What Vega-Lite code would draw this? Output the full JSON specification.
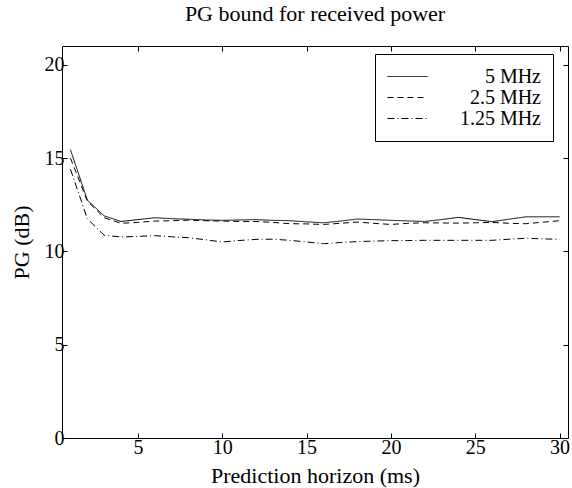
{
  "$schema": "https://vega.github.io/schema/vega-lite/v6.json",
  "width": 506,
  "height": 392,
  "autosize": {"type": "none"},
  "padding": {"left": 62, "top": 46, "right": 4, "bottom": 50},
  "background": "white",
  "config": {
    "font": "Liberation Serif, Times New Roman, serif",
    "view": {"stroke": "black", "strokeWidth": 1},
    "axis": {"grid": false, "domain": false, "tickColor": "black", "tickSize": -5, "labelColor": "black", "labelFontSize": 20, "titleFontSize": 22, "titleFontWeight": "normal", "titleColor": "black", "labelFont": "Liberation Serif, Times New Roman, serif", "titleFont": "Liberation Serif, Times New Roman, serif"}
  },
  "title": {"text": "PG bound for received power", "fontSize": 22, "fontWeight": "normal", "font": "Liberation Serif, Times New Roman, serif", "color": "black", "offset": 20},
  "data": {"values": [
    {"h":1,"pg":15.45,"s":"5 MHz"},{"h":2,"pg":12.75,"s":"5 MHz"},{"h":3,"pg":11.9,"s":"5 MHz"},{"h":4,"pg":11.6,"s":"5 MHz"},{"h":5,"pg":11.7,"s":"5 MHz"},{"h":6,"pg":11.8,"s":"5 MHz"},{"h":7,"pg":11.75,"s":"5 MHz"},{"h":8,"pg":11.72,"s":"5 MHz"},{"h":9,"pg":11.68,"s":"5 MHz"},{"h":10,"pg":11.66,"s":"5 MHz"},{"h":11,"pg":11.68,"s":"5 MHz"},{"h":12,"pg":11.7,"s":"5 MHz"},{"h":13,"pg":11.66,"s":"5 MHz"},{"h":14,"pg":11.64,"s":"5 MHz"},{"h":15,"pg":11.58,"s":"5 MHz"},{"h":16,"pg":11.53,"s":"5 MHz"},{"h":17,"pg":11.62,"s":"5 MHz"},{"h":18,"pg":11.73,"s":"5 MHz"},{"h":19,"pg":11.7,"s":"5 MHz"},{"h":20,"pg":11.66,"s":"5 MHz"},{"h":21,"pg":11.63,"s":"5 MHz"},{"h":22,"pg":11.6,"s":"5 MHz"},{"h":23,"pg":11.7,"s":"5 MHz"},{"h":24,"pg":11.82,"s":"5 MHz"},{"h":25,"pg":11.7,"s":"5 MHz"},{"h":26,"pg":11.59,"s":"5 MHz"},{"h":27,"pg":11.72,"s":"5 MHz"},{"h":28,"pg":11.85,"s":"5 MHz"},{"h":29,"pg":11.85,"s":"5 MHz"},{"h":30,"pg":11.85,"s":"5 MHz"},
    {"h":1,"pg":15.0,"s":"2.5 MHz"},{"h":2,"pg":12.7,"s":"2.5 MHz"},{"h":3,"pg":11.8,"s":"2.5 MHz"},{"h":4,"pg":11.5,"s":"2.5 MHz"},{"h":5,"pg":11.55,"s":"2.5 MHz"},{"h":6,"pg":11.62,"s":"2.5 MHz"},{"h":7,"pg":11.64,"s":"2.5 MHz"},{"h":8,"pg":11.67,"s":"2.5 MHz"},{"h":9,"pg":11.64,"s":"2.5 MHz"},{"h":10,"pg":11.62,"s":"2.5 MHz"},{"h":11,"pg":11.6,"s":"2.5 MHz"},{"h":12,"pg":11.6,"s":"2.5 MHz"},{"h":13,"pg":11.55,"s":"2.5 MHz"},{"h":14,"pg":11.48,"s":"2.5 MHz"},{"h":15,"pg":11.47,"s":"2.5 MHz"},{"h":16,"pg":11.44,"s":"2.5 MHz"},{"h":17,"pg":11.5,"s":"2.5 MHz"},{"h":18,"pg":11.57,"s":"2.5 MHz"},{"h":19,"pg":11.5,"s":"2.5 MHz"},{"h":20,"pg":11.44,"s":"2.5 MHz"},{"h":21,"pg":11.5,"s":"2.5 MHz"},{"h":22,"pg":11.53,"s":"2.5 MHz"},{"h":23,"pg":11.52,"s":"2.5 MHz"},{"h":24,"pg":11.51,"s":"2.5 MHz"},{"h":25,"pg":11.53,"s":"2.5 MHz"},{"h":26,"pg":11.55,"s":"2.5 MHz"},{"h":27,"pg":11.5,"s":"2.5 MHz"},{"h":28,"pg":11.48,"s":"2.5 MHz"},{"h":29,"pg":11.56,"s":"2.5 MHz"},{"h":30,"pg":11.64,"s":"2.5 MHz"},
    {"h":1,"pg":14.4,"s":"1.25 MHz"},{"h":2,"pg":11.75,"s":"1.25 MHz"},{"h":3,"pg":10.86,"s":"1.25 MHz"},{"h":4,"pg":10.77,"s":"1.25 MHz"},{"h":5,"pg":10.8,"s":"1.25 MHz"},{"h":6,"pg":10.84,"s":"1.25 MHz"},{"h":7,"pg":10.78,"s":"1.25 MHz"},{"h":8,"pg":10.73,"s":"1.25 MHz"},{"h":9,"pg":10.62,"s":"1.25 MHz"},{"h":10,"pg":10.5,"s":"1.25 MHz"},{"h":11,"pg":10.58,"s":"1.25 MHz"},{"h":12,"pg":10.64,"s":"1.25 MHz"},{"h":13,"pg":10.65,"s":"1.25 MHz"},{"h":14,"pg":10.59,"s":"1.25 MHz"},{"h":15,"pg":10.5,"s":"1.25 MHz"},{"h":16,"pg":10.41,"s":"1.25 MHz"},{"h":17,"pg":10.47,"s":"1.25 MHz"},{"h":18,"pg":10.52,"s":"1.25 MHz"},{"h":19,"pg":10.55,"s":"1.25 MHz"},{"h":20,"pg":10.57,"s":"1.25 MHz"},{"h":21,"pg":10.58,"s":"1.25 MHz"},{"h":22,"pg":10.59,"s":"1.25 MHz"},{"h":23,"pg":10.59,"s":"1.25 MHz"},{"h":24,"pg":10.59,"s":"1.25 MHz"},{"h":25,"pg":10.59,"s":"1.25 MHz"},{"h":26,"pg":10.59,"s":"1.25 MHz"},{"h":27,"pg":10.65,"s":"1.25 MHz"},{"h":28,"pg":10.7,"s":"1.25 MHz"},{"h":29,"pg":10.67,"s":"1.25 MHz"},{"h":30,"pg":10.64,"s":"1.25 MHz"}
  ]},
  "layer": [
    {
      "mark": {"type": "line", "color": "black", "strokeWidth": 1},
      "encoding": {
        "x": {"field": "h", "type": "quantitative", "scale": {"domain": [0.5, 30.5], "nice": false, "zero": false}, "axis": {"values": [5,10,15,20,25,30], "title": "Prediction horizon (ms)", "titlePadding": 8, "labelPadding": 4}},
        "y": {"field": "pg", "type": "quantitative", "scale": {"domain": [0, 21], "nice": false}, "axis": {"values": [0,5,10,15,20], "title": "PG (dB)", "titlePadding": 11, "labelPadding": 3}},
        "strokeDash": {"field": "s", "type": "nominal", "scale": {"domain": ["5 MHz", "2.5 MHz", "1.25 MHz"], "range": [[1,0],[6,4],[7,3,1,3]]},
          "legend": {"title": null, "orient": "none", "legendX": 313, "legendY": 8, "strokeColor": "black", "fillColor": "white", "padding": 12, "symbolType": "M-1,0H3", "symbolSize": 400, "symbolStrokeWidth": 1, "symbolStrokeColor": "black", "labelFontSize": 20, "labelFont": "Liberation Serif, Times New Roman, serif", "labelColor": "black", "labelAlign": "right", "labelOffset": 133, "rowPadding": 0, "labelLimit": 200}}
      }
    },
    {
      "mark": {"type": "line", "opacity": 0},
      "encoding": {
        "x": {"field": "h", "type": "quantitative", "scale": {"domain": [0.5, 30.5], "nice": false, "zero": false}, "axis": {"orient": "top", "values": [5,10,15,20,25,30], "labels": false, "title": null}},
        "y": {"field": "pg", "type": "quantitative", "scale": {"domain": [0, 21], "nice": false}, "axis": {"orient": "right", "values": [0,5,10,15,20], "labels": false, "title": null}}
      }
    }
  ],
  "resolve": {"axis": {"x": "independent", "y": "independent"}}
}
